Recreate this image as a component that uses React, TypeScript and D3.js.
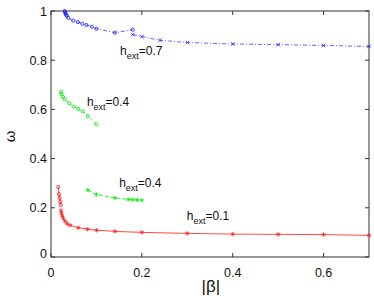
import React, { useEffect, useRef } from 'react';
import * as d3 from 'd3';

// h_ext = 0.7, small |beta| branch (circles) and large |beta| branch (crosses)
const blueCircX = [0.030, 0.031, 0.032, 0.033, 0.035, 0.038, 0.049, 0.059, 0.069, 0.078, 0.090, 0.100, 0.141, 0.180];
const blueCircY = [1.000, 0.995, 0.990, 0.985, 0.980, 0.972, 0.961, 0.955, 0.948, 0.943, 0.936, 0.928, 0.912, 0.924];
const blueCrossX = [0.180, 0.200, 0.240, 0.300, 0.400, 0.500, 0.600, 0.700];
const blueCrossY = [0.904, 0.896, 0.881, 0.872, 0.866, 0.863, 0.860, 0.856];

// h_ext = 0.4, upper branch (circles) and lower branch (stars)
const greenUpX = [0.022, 0.023, 0.026, 0.030, 0.040, 0.050, 0.060, 0.070, 0.081, 0.100];
const greenUpY = [0.671, 0.662, 0.651, 0.641, 0.625, 0.611, 0.602, 0.592, 0.572, 0.539];
const greenLowX = [0.081, 0.100, 0.141, 0.170, 0.180, 0.190, 0.200];
const greenLowY = [0.272, 0.254, 0.240, 0.234, 0.233, 0.232, 0.231];

// h_ext = 0.1, circles then stars
const redCircX = [0.016, 0.0175, 0.019, 0.0205, 0.0215];
const redCircY = [0.285, 0.255, 0.240, 0.224, 0.211];
const redStarX = [0.022, 0.023, 0.025, 0.027, 0.031, 0.036, 0.042, 0.060, 0.080, 0.100, 0.141, 0.200, 0.300, 0.400, 0.500, 0.600, 0.700];
const redStarY = [0.189, 0.178, 0.167, 0.157, 0.145, 0.135, 0.129, 0.119, 0.113, 0.109, 0.104, 0.100, 0.096, 0.093, 0.092, 0.091, 0.088];

const xTicks = [0, 0.2, 0.4, 0.6];
const yTicks = [0, 0.2, 0.4, 0.6, 0.8, 1];

const labels = [
  { text: '0.7', x: 0.152, y: 0.821 },
  { text: '0.4', x: 0.079, y: 0.612 },
  { text: '0.4', x: 0.150, y: 0.285 },
  { text: '0.1', x: 0.299, y: 0.150 },
];

const zip = (xs: number[], ys: number[]) => xs.map((x, i) => [x, ys[i]] as [number, number]);

const App = () => {
  const svgRef = useRef<SVGSVGElement>(null);

  useEffect(() => {
    const W = 374, H = 296;
    const margin = { top: 11, right: 5, bottom: 39, left: 51 };
    const width = W - margin.left - margin.right;
    const height = H - margin.top - margin.bottom;

    d3.select(svgRef.current).selectAll('*').remove();
    const svg = d3.select(svgRef.current).attr('width', W).attr('height', H);
    const g = svg.append('g').attr('transform', `translate(${margin.left},${margin.top})`);

    const x = d3.scaleLinear().domain([0, 0.7]).range([0, width]);
    const y = d3.scaleLinear().domain([0, 1]).range([height, 0]);

    const font = 'Liberation Sans, Arial, sans-serif';
    const axisColor = '#333';

    // box
    g.append('rect').attr('width', width).attr('height', height)
      .attr('fill', 'none').attr('stroke', axisColor).attr('stroke-width', 1);

    // ticks inward on all sides
    const tl = 4;
    xTicks.forEach(t => {
      g.append('line').attr('x1', x(t)).attr('x2', x(t)).attr('y1', height).attr('y2', height - tl).attr('stroke', axisColor);
      g.append('line').attr('x1', x(t)).attr('x2', x(t)).attr('y1', 0).attr('y2', tl).attr('stroke', axisColor);
      g.append('text').attr('x', x(t)).attr('y', height + 20).attr('text-anchor', 'middle')
        .attr('font-family', font).attr('font-size', 12.5).attr('fill', '#111').text(String(t));
    });
    yTicks.forEach(t => {
      g.append('line').attr('x1', 0).attr('x2', tl).attr('y1', y(t)).attr('y2', y(t)).attr('stroke', axisColor);
      g.append('line').attr('x1', width).attr('x2', width - tl).attr('y1', y(t)).attr('y2', y(t)).attr('stroke', axisColor);
      g.append('text').attr('x', -4).attr('y', y(t) + (t === 0 ? 1 : 4.5)).attr('text-anchor', 'end')
        .attr('font-family', font).attr('font-size', 12.5).attr('fill', '#111').text(String(t));
    });

    g.append('text').attr('x', x(0.352)).attr('y', height + 35).attr('text-anchor', 'middle')
      .attr('font-family', font).attr('font-size', 17).attr('fill', '#111').text('|β|');
    g.append('text').attr('transform', `translate(${-36},${y(0.49)}) rotate(-90)`).attr('text-anchor', 'middle')
      .attr('font-family', font).attr('font-size', 15).attr('fill', '#111').text('ω');

    const line = d3.line<[number, number]>().x(d => x(d[0])).y(d => y(d[1]));

    const series = [
      { pts: zip(blueCircX, blueCircY), color: '#1a1aff', dash: '4,2,1,2', sym: d3.symbolCircle, size: 8, w: 0.7 },
      { pts: zip(blueCrossX, blueCrossY), color: '#1a1aff', dash: '4,2,1,2', sym: d3.symbolTimes, size: 10, w: 0.7 },
      { pts: zip(greenUpX, greenUpY), color: '#00e600', dash: '3,2', sym: d3.symbolCircle, size: 8, w: 0.7 },
      { pts: zip(greenLowX, greenLowY), color: '#00e600', dash: '4,2', sym: d3.symbolAsterisk, size: 14, w: 0.8 },
      { pts: zip(redCircX, redCircY), color: '#ff1a1a', dash: null, sym: d3.symbolCircle, size: 8, w: 0.8 },
      { pts: zip(redStarX, redStarY), color: '#ff1a1a', dash: null, sym: d3.symbolAsterisk, size: 14, w: 0.8 },
    ];

    series.forEach(s => {
      g.append('path').datum(s.pts).attr('d', line).attr('fill', 'none')
        .attr('stroke', s.color).attr('stroke-width', s.w)
        .attr('stroke-dasharray', s.dash);
      const sym = d3.symbol().type(s.sym).size(s.size);
      g.selectAll(null).data(s.pts).enter().append('path')
        .attr('d', sym).attr('transform', d => `translate(${x(d[0])},${y(d[1])})`)
        .attr('fill', 'none').attr('stroke', s.color).attr('stroke-width', 0.8);
    });

    labels.forEach(l => {
      const t = g.append('text').attr('x', x(l.x)).attr('y', y(l.y))
        .attr('font-family', font).attr('font-size', 12).attr('fill', '#111');
      t.append('tspan').text('h');
      t.append('tspan').attr('dy', 4).attr('font-size', 9).text('ext');
      t.append('tspan').attr('dy', -4).text('=' + l.text);
    });
  }, []);

  return <svg ref={svgRef} style={{ position: 'absolute', left: 0, top: 0 }}></svg>;
};

export default App;
